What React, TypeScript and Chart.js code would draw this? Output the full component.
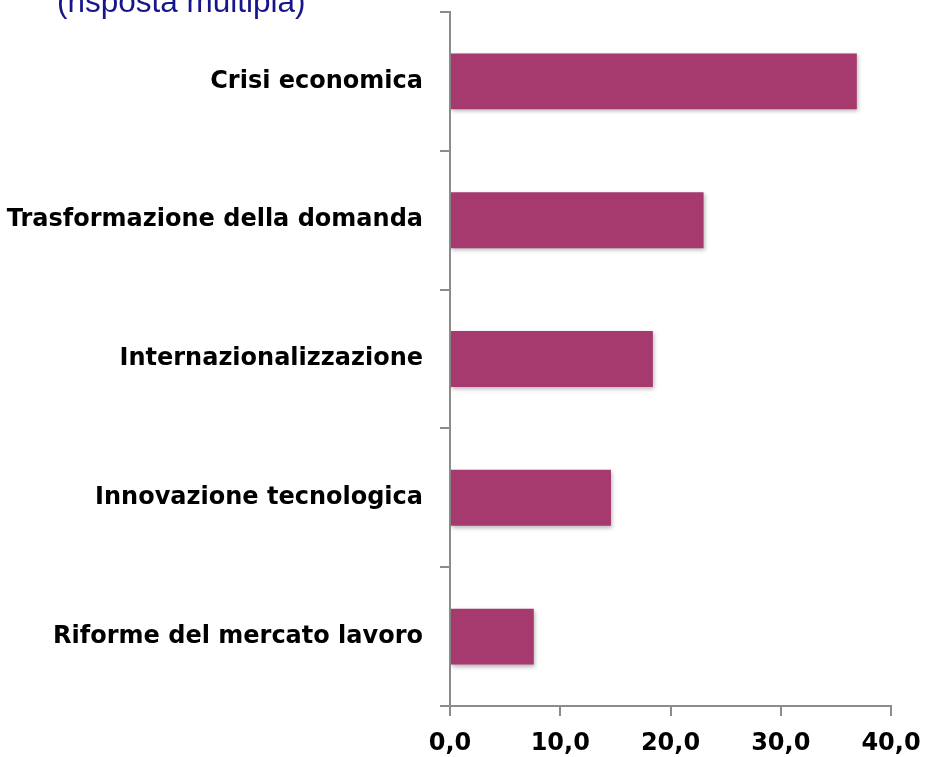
import React, { useEffect, useRef } from "react";
import { Chart, registerables } from "chart.js";

Chart.register(...registerables);

const categories = [
  "Crisi economica",
  "Trasformazione della domanda",
  "Internazionalizzazione",
  "Innovazione tecnologica",
  "Riforme del mercato lavoro",
];
const values = [36.9, 23.0, 18.4, 14.6, 7.6];
const xMin = 0;
const xMax = 40;
const xStep = 10;
const titleText = "(risposta multipla)";

const W = 926;
const H = 757;

export default function App() {
  const ref = useRef<HTMLCanvasElement | null>(null);

  useEffect(() => {
    document.body.style.margin = "0";
    const canvas = ref.current;
    if (!canvas) return;

    const titlePlugin = {
      id: "partialTitle",
      afterDraw(chart: any) {
        const ctx = chart.ctx;
        ctx.save();
        ctx.font = "31.5px 'Liberation Sans', Arial, sans-serif";
        ctx.fillStyle = "#16168A";
        ctx.textAlign = "left";
        ctx.textBaseline = "alphabetic";
        ctx.fillText(titleText, 57, 12);
        ctx.restore();
      },
    };

    const shadowPlugin = {
      id: "barShadow",
      beforeDatasetsDraw(chart: any) {
        const ctx = chart.ctx;
        ctx.save();
        ctx.shadowColor = "rgba(0,0,0,0.28)";
        ctx.shadowBlur = 4;
        ctx.shadowOffsetX = 1;
        ctx.shadowOffsetY = 2;
      },
      afterDatasetsDraw(chart: any) {
        chart.ctx.restore();
      },
    };

    const labelFont = { family: "'DejaVu Sans', Verdana, sans-serif", size: 24, weight: "bold" };

    const chart = new Chart(canvas, {
      type: "bar",
      data: {
        labels: categories,
        datasets: [
          {
            data: values,
            backgroundColor: "#A6396D",
            borderWidth: 0,
            barPercentage: 0.403,
            categoryPercentage: 1,
          },
        ],
      },
      options: {
        indexAxis: "y",
        responsive: false,
        animation: false,
        layout: { padding: { top: 12, right: 35, left: 0, bottom: 0 } },
        plugins: {
          legend: { display: false },
          tooltip: { enabled: false },
          title: { display: false },
        },
        scales: {
          x: {
            min: xMin,
            max: xMax,
            afterFit(scale: any) {
              scale.height = 51;
              scale.paddingLeft = 0;
              scale.paddingRight = 0;
            },
            border: { display: true, color: "#8c8c8c", width: 2 },
            grid: {
              drawOnChartArea: false,
              drawTicks: true,
              tickLength: 10,
              color: "#8c8c8c",
              lineWidth: 2,
            },
            ticks: {
              stepSize: xStep,
              padding: 13,
              color: "#000",
              font: labelFont,
              callback: (v: any) => Number(v).toFixed(1).replace(".", ","),
            },
          },
          y: {
            afterFit(scale: any) {
              scale.width = 450;
              scale.paddingTop = 0;
              scale.paddingBottom = 0;
            },
            border: { display: true, color: "#8c8c8c", width: 2 },
            grid: {
              offset: true,
              drawOnChartArea: false,
              drawTicks: true,
              tickLength: 10,
              color: "#8c8c8c",
              lineWidth: 2,
            },
            ticks: {
              padding: 17,
              color: "#000",
              font: labelFont,
            },
          },
        },
      },
      plugins: [shadowPlugin, titlePlugin],
    } as any);

    return () => chart.destroy();
  }, []);

  return (
    <div style={{ position: "absolute", left: 0, top: 0, width: W, height: H, background: "#fff" }}>
      <canvas ref={ref} width={W} height={H} style={{ display: "block", width: W, height: H }} />
    </div>
  );
}
